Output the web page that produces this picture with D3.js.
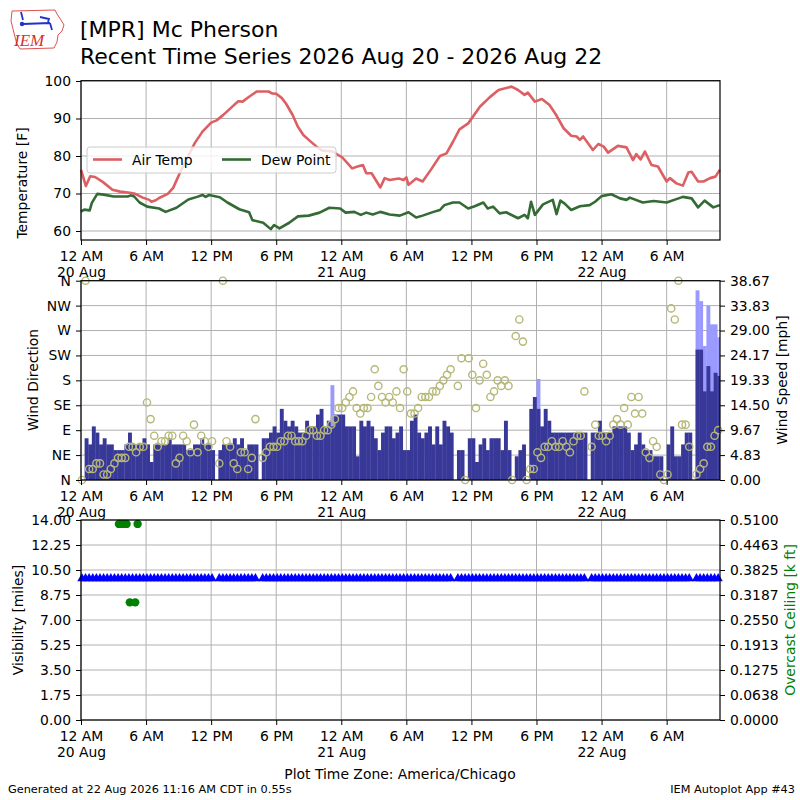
<!DOCTYPE html>
<html>
<head>
<meta charset="utf-8">
<script src="https://cdn.jsdelivr.net/npm/d3@7/dist/d3.min.js"></script>
<style>
	body { margin: 0; background: #fff; }
</style>
</head>
<body>
<div id="chart"></div>
<script>
// ---- data (hours since 12 AM 20 Aug) ----
var airHours = [0,0.45,0.85,1.3,2.0,2.9,3.6,4.5,5.0,5.7,6.3,6.5,6.9,7.2,8.0,8.5,9.1,9.8,10.5,11.2,
	12.0,12.5,13.1,14.0,14.5,14.9,15.5,16.2,17.3,17.6,18.0,18.5,18.9,19.5,20.0,20.5,21.0,21.8,22.2,23.2,
	24.1,25.0,25.5,26.0,26.3,26.8,27.6,28.0,28.46,29.3,29.75,30.0,30.2,30.9,31.5,32.3,33.1,33.7,34.3,34.9,
	35.7,36.8,37.7,38.5,39.7,40.3,40.9,41.2,41.85,42.5,43.2,43.8,44.5,45.2,45.7,46.0,46.3,47.2,47.7,48.2,
	48.6,49.5,50.3,50.9,51.2,51.6,52.0,52.6,53.2,54.0,54.3,54.9,55.5,56.0,56.3,56.9,57.4,58.0,58.5,58.9];
var airTemp = [76.3,72.0,74.6,74.4,73.1,71.0,70.5,70.2,69.9,68.9,68.3,67.8,68.2,68.8,69.9,71.5,75.4,79.5,83.5,86.5,
	88.9,89.5,90.9,93.3,94.6,94.5,95.8,97.2,97.2,96.7,96.6,95.5,94.0,91.0,87.8,85.6,84.3,82.3,81.5,81.2,
	79.6,76.7,77.2,77.6,75.4,75.4,71.6,74.1,73.6,74.0,73.6,74.3,72.3,74.0,73.2,76.5,80.0,80.7,83.8,87.1,
	88.7,93.2,95.7,97.6,98.5,97.6,96.3,96.9,94.5,95.2,93.6,91.0,87.4,85.4,85.2,84.3,85.2,81.6,83.2,82.5,
	80.9,82.7,82.3,78.9,80.5,79.1,81.2,77.6,77.2,73.2,74.1,72.7,72.1,75.6,75.8,73.2,73.2,74.1,74.5,76.3];

var dewHours = [0,0.3,0.8,1.0,1.5,2.1,3.0,4.3,4.6,4.9,5.4,6.1,7.2,7.8,8.8,9.9,10.7,11.2,11.5,11.8,
	12.8,13.5,14.6,15.5,15.8,16.8,17.5,17.8,18.3,19.2,20.0,21.0,22.0,22.9,23.9,24.4,25.2,25.8,26.3,26.9,
	27.6,28.46,29.4,30.2,30.9,31.5,32.5,33.1,33.5,34.3,34.9,35.7,36.3,37.1,37.5,38.0,38.6,39.2,40.3,40.9,
	41.2,41.5,41.85,42.6,43.5,43.85,44.2,44.6,45.2,46.0,46.9,47.4,48.0,48.9,49.7,50.3,50.6,51.8,52.8,54.0,
	54.9,55.5,56.3,56.9,57.5,58.3,58.9];
var dewTemp = [65.2,65.7,65.5,67.5,69.9,69.7,69.2,69.2,69.5,69.2,67.6,66.5,66.0,65.1,66.2,68.4,69.1,69.6,69.1,69.6,
	69.0,67.6,65.8,65.0,62.9,62.2,60.5,61.6,60.7,62.2,63.9,64.1,64.9,66.2,66.0,64.9,65.1,64.3,64.9,64.4,
	65.1,64.4,64.1,65.0,63.6,64.1,65.1,65.6,66.9,67.6,67.6,66.0,66.6,67.6,66.0,66.5,64.7,65.0,63.4,64.3,
	63.4,67.8,64.3,67.1,68.3,64.5,68.1,67.3,65.6,66.6,66.9,67.8,69.3,69.8,68.7,68.3,68.9,67.6,68.0,67.6,
	68.5,69.1,68.7,66.3,68.1,66.3,66.9];

// observations every 20 minutes starting 12:05 AM 20 Aug
var obsStartMin = 5, obsStepMin = 20;

var windSpeed = [
	0,8.1,6.9,10.4,9.2,6.9,8.1,6.9,6.9,5.8,5.8,5.8,6.9,9.2,6.9,6.9,6.9,8.1,
	6.9,3.5,6.9,6.9,6.9,6.9,8.1,6.9,6.9,6.9,6.9,5.8,5.8,6.9,6.9,8.1,6.9,6.9,
	5.8,null,5.8,6.9,6.9,6.9,8.1,6.9,8.1,5.8,6.9,6.9,6.9,null,8.1,8.1,9.2,10.4,
	9.2,13.8,11.5,10.4,11.5,10.4,9.2,9.2,11.5,10.4,10.4,12.7,13.8,10.4,11.5,10.4,12.7,12.7,
	12.7,10.4,10.4,10.4,4.6,11.5,10.4,11.5,10.4,8.1,5.8,9.2,10.4,10.4,8.1,9.2,10.4,5.8,
	5.8,11.5,12.7,9.2,8.1,9.2,10.4,6.9,10.4,6.9,11.5,10.4,9.2,null,5.8,5.8,0,8.1,
	8.1,3.5,6.9,8.1,5.8,8.1,8.1,8.1,5.8,11.5,5.8,0,4.6,5.8,6.9,0,13.8,16.1,
	13.8,10.4,13.8,11.5,9.2,9.2,9.2,9.2,9.2,9.2,9.2,9.2,9.2,9.2,null,9.2,9.2,11.5,
	9.2,9.2,9.2,10.4,10.4,10.4,10.4,9.2,5.8,6.9,9.2,6.9,5.8,5.8,4.6,4.6,4.6,0,
	6.9,10.4,4.6,4.6,6.9,9.2,9.2,null,25.3,25.3,17.2,22.1,17.2,20.8,20.2];

var windDir = [
	0,360,20,20,30,30,10,10,20,30,40,40,40,60,60,50,60,60,
	140,110,80,60,70,70,80,80,30,40,80,70,50,100,50,80,70,60,
	70,null,30,360,70,60,30,20,50,50,20,40,110,null,40,50,60,60,
	60,70,70,80,80,70,70,70,80,90,90,80,80,90,90,100,110,130,
	130,140,150,160,130,120,130,130,150,200,170,150,140,150,140,160,130,200,
	160,120,120,130,150,150,150,160,160,170,180,190,200,null,170,220,0,220,
	190,130,180,210,190,150,160,180,170,180,170,0,260,290,250,0,20,20,
	50,40,60,60,70,60,60,70,60,50,70,80,80,160,null,60,100,80,
	80,70,80,100,110,100,130,100,150,120,150,120,50,40,70,60,10,0,
	10,310,290,360,100,100,60,null,10,20,30,60,60,80,90];

var gustObs = [69, 126, 170, 171, 172, 173, 174, 175, 176];
var gustMph = [18.4, 19.6, 36.8, 34.7, 26.0, 33.8, 30.2, 30.2, 27.7];

var visMiles = [
	10,10,10,10,10,10,10,10,10,10,10,10,10,10,10,10,10,10,
	10,10,10,10,10,10,10,10,10,10,10,10,10,10,10,10,10,10,
	10,null,10,10,10,10,10,10,10,10,10,10,10,null,10,10,10,10,
	10,10,10,10,10,10,10,10,10,10,10,10,10,10,10,10,10,10,
	10,10,10,10,10,10,10,10,10,10,10,10,10,10,10,10,10,10,
	10,10,10,10,10,10,10,10,10,10,10,10,10,null,10,10,10,10,
	10,10,10,10,10,10,10,10,10,10,10,10,10,10,10,10,10,10,
	10,10,10,10,10,10,10,10,10,10,10,10,10,10,null,10,10,10,
	10,10,10,10,10,10,10,10,10,10,10,10,10,10,10,10,10,10,
	10,10,10,10,10,10,10,null,10,10,10,10,10,10,10];

var ceilHours = [3.5, 3.85, 4.2, 4.5, 5.0, 5.22];
var ceilKft = [0.5, 0.5, 0.5, 0.3, 0.3, 0.5];

var tickHours = [0, 6, 12, 18, 24, 30, 36, 42, 48, 54];
var tickLine1 = ["12 AM","6 AM","12 PM","6 PM","12 AM","6 AM","12 PM","6 PM","12 AM","6 AM"];
var tickLine2 = ["20 Aug","","","","21 Aug","","","","22 Aug",""];

var tempTicks = [60, 70, 80, 90, 100];
var dirTicks = [0, 45, 90, 135, 180, 225, 270, 315, 360];
var dirLabels = ["N","NE","E","SE","S","SW","W","NW","N"];
var speedTicks = [0, 4.83, 9.67, 14.5, 19.33, 24.17, 29.0, 33.83, 38.67];
var speedLabels = ["0.00","4.83","9.67","14.50","19.33","24.17","29.00","33.83","38.67"];
var visTicks = [0, 1.75, 3.5, 5.25, 7, 8.75, 10.5, 12.25, 14];
var visLabels = ["0.00","1.75","3.50","5.25","7.00","8.75","10.50","12.25","14.00"];
var ceilTicks = [0, 0.06375, 0.1275, 0.19125, 0.255, 0.31875, 0.3825, 0.44625, 0.51];
var ceilLabels = ["0.0000","0.0638","0.1275","0.1913","0.2550","0.3187","0.3825","0.4463","0.5100"];

(function() {

	var FONT = "DejaVu Sans, sans-serif";
	var TICK_FONT = "13.9px";
	var GRID = "#b0b0b0";

	var PLOT_LEFT = 81, PLOT_RIGHT = 720;
	var panels = {
		temp: {top: 80.7, bottom: 240},
		wind: {top: 280.7, bottom: 480},
		vis:  {top: 520, bottom: 720}
	};

	var x = d3.scaleLinear().domain([0, 58.92]).range([PLOT_LEFT, PLOT_RIGHT]);
	var yT = d3.scaleLinear().domain([57.6, 100.08]).range([panels.temp.bottom, panels.temp.top]);
	var yDir = d3.scaleLinear().domain([0, 360]).range([panels.wind.bottom, panels.wind.top]);
	var ySpd = d3.scaleLinear().domain([0, 38.67]).range([panels.wind.bottom, panels.wind.top]);
	var yVis = d3.scaleLinear().domain([0, 14]).range([panels.vis.bottom, panels.vis.top]);
	var yCeil = d3.scaleLinear().domain([0, 0.51]).range([panels.vis.bottom, panels.vis.top]);

	function obs_hour(i) {
		return (obsStartMin + obsStepMin * i) / 60;
	}

	var svg = d3.select("#chart").append("svg")
		.attr("width", 800)
		.attr("height", 800)
		.style("display", "block")
		.style("font-family", FONT);

	svg.append("rect").attr("width", 800).attr("height", 800).attr("fill", "#fff");

	function style_axis(g) {
		g.select(".domain").remove();
		g.selectAll(".tick line").attr("stroke", "#000").attr("stroke-width", 1);
		g.selectAll(".tick text")
			.attr("font-family", FONT)
			.attr("font-size", TICK_FONT)
			.attr("fill", "#000");
	}

	function draw_grid(yScale, yTicks, p) {
		var g = svg.append("g").attr("class", "grid");
		g.selectAll("line.v")
			.data(tickHours)
			.enter()
			.append("line")
				.attr("x1", d => x(d)).attr("x2", d => x(d))
				.attr("y1", p.top).attr("y2", p.bottom)
				.attr("stroke", GRID).attr("stroke-width", 1);
		g.selectAll("line.h")
			.data(yTicks)
			.enter()
			.append("line")
				.attr("x1", PLOT_LEFT).attr("x2", PLOT_RIGHT)
				.attr("y1", d => yScale(d)).attr("y2", d => yScale(d))
				.attr("stroke", GRID).attr("stroke-width", 1);
	}

	function draw_frame(p) {
		svg.append("rect")
			.attr("x", PLOT_LEFT).attr("y", p.top)
			.attr("width", PLOT_RIGHT - PLOT_LEFT)
			.attr("height", p.bottom - p.top)
			.attr("fill", "none")
			.attr("stroke", "#000")
			.attr("stroke-width", 1.2);
	}

	function add_time_axis(p) {
		var g = svg.append("g")
			.attr("transform", "translate(0," + p.bottom + ")")
			.call(d3.axisBottom(x).tickValues(tickHours).tickSize(5).tickPadding(5));
		style_axis(g);
		g.selectAll(".tick text").each(function(d, i) {
			var t = d3.select(this);
			t.text(null).attr("dy", null).attr("y", 10);
			t.append("tspan").attr("x", 0).attr("dy", "0.76em").text(tickLine1[i]);
			if (tickLine2[i]) {
				t.append("tspan").attr("x", 0).attr("dy", "1.2em").text(tickLine2[i]);
			}
		});
	}

	function add_y_axis(scale, ticks, labels, side) {
		var ax = side == "left" ? d3.axisLeft(scale) : d3.axisRight(scale);
		var g = svg.append("g")
			.attr("transform", "translate(" + (side == "left" ? PLOT_LEFT : PLOT_RIGHT) + ",0)")
			.call(ax.tickValues(ticks).tickSize(5).tickPadding(5)
				.tickFormat((d, i) => labels ? labels[i] : d));
		style_axis(g);
		return g;
	}

	function add_ylabel(txt, cx, cy, color) {
		svg.append("text")
			.attr("transform", "translate(" + cx + "," + cy + ") rotate(-90)")
			.attr("text-anchor", "middle")
			.attr("dy", "0.35em")
			.attr("font-size", TICK_FONT)
			.attr("fill", color || "#000")
			.text(txt);
	}

	function build_header() {
		var logo = svg.append("g").attr("class", "logo");
		logo.append("path")
			.attr("d", "M12,11 L55,10 L57,14 L61,20 L64,25 L62,31 L58,35 L57,42 L54,48 L20,49 L17,44 L15,37 L13,29 L11,21 Z")
			.attr("fill", "none").attr("stroke", "#e25050").attr("stroke-width", 1);
		logo.append("path")
			.attr("d", "M21,12 L23,20 M23,24 L50,23 M40,17 L49,19 L48,22 M50,23 L52,30")
			.attr("fill", "none").attr("stroke", "#2233cc").attr("stroke-width", 1.8);
		logo.append("circle").attr("cx", 22).attr("cy", 24).attr("r", 2.2).attr("fill", "#2233cc");
		logo.append("text")
			.attr("x", 14).attr("y", 46)
			.attr("font-family", "Liberation Serif, serif")
			.attr("font-style", "italic")
			.attr("font-size", "17px")
			.attr("fill", "#d83030")
			.text("IEM");

		svg.append("text")
			.attr("x", 80).attr("y", 37)
			.attr("font-size", "22px")
			.text("[MPR] Mc Pherson");
		svg.append("text")
			.attr("x", 80).attr("y", 63.5)
			.attr("font-size", "22px")
			.text("Recent Time Series 2026 Aug 20 - 2026 Aug 22");
	}

	function build_temp_panel() {
		var p = panels.temp;
		draw_grid(yT, tempTicks, p);

		var line = d3.line().x(d => x(d[0])).y(d => yT(d[1]));
		svg.append("path")
			.datum(d3.zip(airHours, airTemp))
			.attr("d", line)
			.attr("fill", "none").attr("stroke", "#dd5f63")
			.attr("stroke-width", 2.6).attr("stroke-linejoin", "round");
		svg.append("path")
			.datum(d3.zip(dewHours, dewTemp))
			.attr("d", line)
			.attr("fill", "none").attr("stroke", "#346a34")
			.attr("stroke-width", 2.6).attr("stroke-linejoin", "round");

		// legend
		var lg = svg.append("g").attr("class", "legend");
		lg.append("rect")
			.attr("x", 87).attr("y", 147).attr("width", 249).attr("height", 26)
			.attr("rx", 3).attr("ry", 3)
			.attr("fill", "#fff").attr("fill-opacity", 0.8)
			.attr("stroke", "#cccccc");
		var items = [["Air Temp", "#dd5f63", 93], ["Dew Point", "#346a34", 222]];
		items.forEach(function(it) {
			lg.append("line")
				.attr("x1", it[2]).attr("x2", it[2] + 29)
				.attr("y1", 159.5).attr("y2", 159.5)
				.attr("stroke", it[1]).attr("stroke-width", 2.6);
			lg.append("text")
				.attr("x", it[2] + 39).attr("y", 159.5)
				.attr("dy", "0.36em")
				.attr("font-size", TICK_FONT)
				.text(it[0]);
		});

		draw_frame(p);
		add_y_axis(yT, tempTicks, null, "left");
		add_time_axis(p);
		add_ylabel("Temperature [F]", 22.5, 183);
	}

	function build_wind_panel() {
		var p = panels.wind;
		draw_grid(yDir, dirTicks, p);

		svg.append("clipPath").attr("id", "wind_clip")
			.append("rect")
				.attr("x", PLOT_LEFT).attr("y", p.top)
				.attr("width", PLOT_RIGHT - PLOT_LEFT).attr("height", p.bottom - p.top);

		var barW = x(obsStepMin / 60) - x(0);
		var bars = svg.append("g").attr("clip-path", "url(#wind_clip)");

		bars.selectAll("rect.gust")
			.data(gustObs)
			.enter()
			.append("rect")
				.attr("class", "gust")
				.attr("x", d => x(obs_hour(d) - 5 / 60))
				.attr("width", barW + 0.3)
				.attr("y", (d, i) => ySpd(gustMph[i]))
				.attr("height", (d, i) => p.bottom - ySpd(gustMph[i]))
				.attr("fill", "#9999ff");

		var spd = windSpeed.map((v, i) => ({i: i, v: v})).filter(d => d.v);
		bars.selectAll("rect.speed")
			.data(spd)
			.enter()
			.append("rect")
				.attr("class", "speed")
				.attr("x", d => x(obs_hour(d.i) - 5 / 60))
				.attr("width", barW + 0.3)
				.attr("y", d => ySpd(d.v))
				.attr("height", d => p.bottom - ySpd(d.v))
				.attr("fill", "#383898");

		var dirs = windDir.map((v, i) => ({i: i, v: v})).filter(d => d.v !== null);
		svg.append("g").selectAll("circle")
			.data(dirs)
			.enter()
			.append("circle")
				.attr("cx", d => x(obs_hour(d.i)))
				.attr("cy", d => yDir(d.v))
				.attr("r", 3.6)
				.attr("fill", "none")
				.attr("stroke", "#b6b878")
				.attr("stroke-width", 1.4);

		draw_frame(p);
		add_y_axis(yDir, dirTicks, dirLabels, "left");
		add_y_axis(ySpd, speedTicks, speedLabels, "right");
		add_time_axis(p);
		add_ylabel("Wind Direction", 33, 380);
		add_ylabel("Wind Speed [mph]", 782, 380);
	}

	function build_vis_panel() {
		var p = panels.vis;
		draw_grid(yVis, visTicks, p);

		var vis = visMiles.map((v, i) => ({i: i, v: v})).filter(d => d.v !== null);
		svg.append("g").selectAll("path")
			.data(vis)
			.enter()
			.append("path")
				.attr("transform", d => "translate(" + x(obs_hour(d.i)) + "," + yVis(d.v) + ")")
				.attr("d", "M0,-4.2 L4.6,4 L-4.6,4 Z")
				.attr("fill", "#0000ff");

		svg.append("g").selectAll("circle")
			.data(d3.zip(ceilHours, ceilKft))
			.enter()
			.append("circle")
				.attr("cx", d => x(d[0]))
				.attr("cy", d => yCeil(d[1]))
				.attr("r", 4.2)
				.attr("fill", "#008000");

		draw_frame(p);
		add_y_axis(yVis, visTicks, visLabels, "left");
		add_y_axis(yCeil, ceilTicks, ceilLabels, "right");
		add_time_axis(p);
		add_ylabel("Visibility [miles]", 18, 620);
		add_ylabel("Overcast Ceiling [k ft]", 790, 620, "#008000");
	}

	function build_footer() {
		svg.append("text")
			.attr("x", 400).attr("y", 779)
			.attr("text-anchor", "middle")
			.attr("font-size", TICK_FONT)
			.text("Plot Time Zone: America/Chicago");
		svg.append("text")
			.attr("x", 8).attr("y", 793)
			.attr("font-size", "11.3px")
			.text("Generated at 22 Aug 2026 11:16 AM CDT in 0.55s");
		svg.append("text")
			.attr("x", 795).attr("y", 793)
			.attr("text-anchor", "end")
			.attr("font-size", "11.3px")
			.text("IEM Autoplot App #43");
	}

	build_header();
	build_temp_panel();
	build_wind_panel();
	build_vis_panel();
	build_footer();

}) ();
</script>
</body>
</html>
